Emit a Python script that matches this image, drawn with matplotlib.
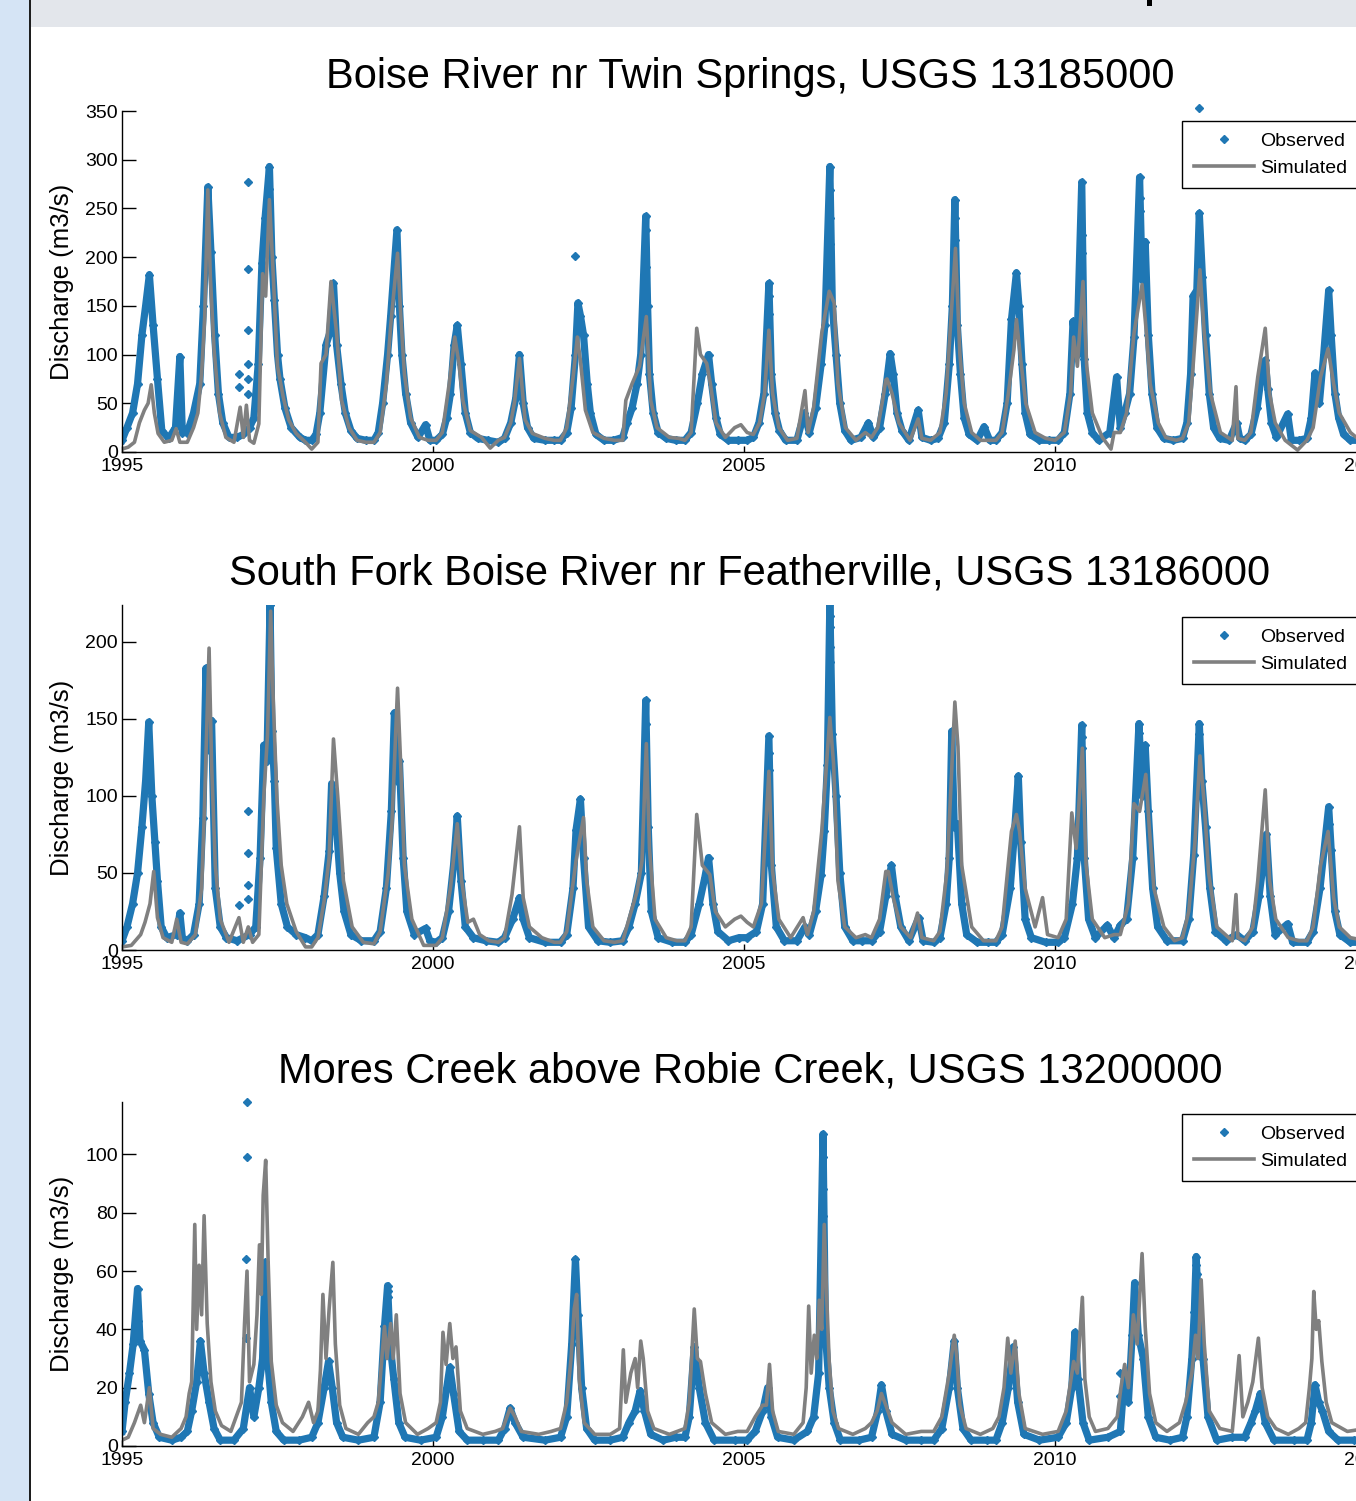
import matplotlib
matplotlib.use("Agg")
import matplotlib.pyplot as plt
from matplotlib.lines import Line2D
from matplotlib.patches import Rectangle

plt.rcParams['font.family'] = ['Liberation Sans', 'DejaVu Sans']

# ---------------------------------------------------------------- data
# (decimal year, discharge m3/s) key points
boise_obs = [
    (1995.00, 12), (1995.08, 25), (1995.17, 40), (1995.25, 70), (1995.32, 120), (1995.38, 150),
    (1995.44, 182), (1995.50, 130), (1995.57, 75), (1995.64, 22), (1995.75, 14), (1995.86, 25),
    (1995.93, 98), (1995.97, 20),
    (1996.05, 20), (1996.15, 40), (1996.25, 70), (1996.31, 150), (1996.38, 272), (1996.43, 205),
    (1996.49, 120), (1996.55, 60), (1996.62, 30), (1996.72, 15), (1996.85, 15), (1996.95, 18),
    (1997.05, 25), (1997.12, 35), (1997.19, 90), (1997.25, 194), (1997.30, 240), (1997.37, 293),
    (1997.41, 200), (1997.45, 156), (1997.50, 100), (1997.54, 75), (1997.62, 45), (1997.72, 25),
    (1997.86, 15), (1997.95, 12),
    (1998.05, 12), (1998.12, 18), (1998.18, 40), (1998.28, 110), (1998.34, 122), (1998.40, 173),
    (1998.45, 110), (1998.52, 70), (1998.59, 40), (1998.68, 22), (1998.78, 14), (1998.92, 12),
    (1999.05, 12), (1999.12, 20), (1999.19, 50), (1999.27, 100), (1999.32, 140), (1999.42, 228),
    (1999.46, 150), (1999.50, 100), (1999.56, 60), (1999.64, 30), (1999.76, 15), (1999.88, 28),
    (1999.95, 12),
    (2000.05, 12), (2000.15, 18), (2000.22, 35), (2000.28, 60), (2000.34, 110), (2000.39, 130),
    (2000.45, 90), (2000.52, 40), (2000.60, 20), (2000.72, 14), (2000.88, 12),
    (2001.05, 10), (2001.15, 14), (2001.25, 30), (2001.33, 55), (2001.39, 100), (2001.45, 50),
    (2001.52, 25), (2001.62, 14), (2001.80, 12), (2001.95, 12),
    (2002.05, 12), (2002.15, 20), (2002.22, 45), (2002.29, 100), (2002.33, 153), (2002.37, 140),
    (2002.42, 120), (2002.48, 70), (2002.53, 40), (2002.62, 18), (2002.75, 12), (2002.90, 12),
    (2003.05, 15), (2003.12, 30), (2003.20, 45), (2003.28, 70), (2003.34, 100), (2003.42, 242),
    (2003.45, 150), (2003.48, 80), (2003.54, 40), (2003.62, 20), (2003.75, 14), (2003.90, 12),
    (2004.05, 12), (2004.15, 20), (2004.25, 50), (2004.33, 80), (2004.43, 100), (2004.48, 70),
    (2004.55, 35), (2004.62, 18), (2004.75, 12), (2004.90, 12),
    (2005.05, 12), (2005.15, 15), (2005.24, 30), (2005.32, 60), (2005.40, 173), (2005.44, 80),
    (2005.50, 40), (2005.57, 22), (2005.67, 12), (2005.85, 12), (2005.97, 40),
    (2006.05, 20), (2006.15, 45), (2006.24, 90), (2006.30, 130), (2006.38, 293), (2006.42, 150),
    (2006.48, 100), (2006.54, 50), (2006.62, 22), (2006.72, 12), (2006.88, 15),
    (2007.00, 30), (2007.08, 15), (2007.18, 25), (2007.27, 60), (2007.35, 101), (2007.40, 80),
    (2007.46, 40), (2007.54, 22), (2007.65, 12), (2007.80, 43), (2007.86, 15),
    (2008.00, 12), (2008.12, 14), (2008.22, 30), (2008.30, 90), (2008.35, 150), (2008.39, 259),
    (2008.43, 130), (2008.48, 80), (2008.54, 35), (2008.62, 18), (2008.75, 12), (2008.86, 26),
    (2008.95, 12),
    (2009.05, 12), (2009.15, 20), (2009.23, 50), (2009.30, 136), (2009.38, 184), (2009.42, 150),
    (2009.47, 90), (2009.52, 40), (2009.60, 18), (2009.75, 12), (2009.90, 12),
    (2010.05, 12), (2010.15, 20), (2010.24, 60), (2010.29, 134), (2010.35, 100), (2010.43, 277),
    (2010.47, 95), (2010.52, 40), (2010.60, 20), (2010.70, 12), (2010.88, 20), (2010.99, 77),
    (2011.05, 25),
    (2011.12, 40), (2011.20, 60), (2011.27, 118), (2011.36, 282), (2011.40, 177), (2011.45, 216),
    (2011.50, 120), (2011.56, 60), (2011.64, 25), (2011.75, 14), (2011.90, 12),
    (2012.05, 14), (2012.12, 30), (2012.18, 80), (2012.22, 160), (2012.28, 166), (2012.32, 245),
    (2012.37, 180), (2012.42, 120), (2012.48, 60), (2012.55, 25), (2012.65, 14), (2012.80, 12),
    (2012.92, 30), (2012.97, 14),
    (2013.05, 12), (2013.15, 18), (2013.25, 45), (2013.32, 80), (2013.38, 94), (2013.42, 65),
    (2013.48, 30), (2013.56, 15), (2013.74, 39), (2013.80, 12), (2013.92, 12),
    (2014.05, 14), (2014.12, 35), (2014.18, 81), (2014.25, 50), (2014.32, 100), (2014.40, 166),
    (2014.44, 120), (2014.50, 60), (2014.56, 35), (2014.64, 18), (2014.75, 12), (2014.90, 12),
    (2015.00, 12),
]
boise_obs_isolated = [
    (1996.88, 80), (1996.88, 67), (1997.02, 277), (1997.02, 188), (1997.02, 125), (1997.02, 90),
    (1997.02, 75), (1997.02, 60), (2002.29, 201), (2012.32, 353), (2012.32, 208), (2012.32, 189),
    (2006.38, 269), (2006.38, 240), (2006.38, 213), (2010.43, 223), (2010.43, 204),
    (2011.36, 261), (2011.36, 247), (2003.42, 228), (2003.42, 190), (2005.40, 160), (2005.40, 142),
    (1997.37, 270), (1997.37, 252), (2008.39, 240), (2008.39, 218),
]
boise_sim = [
    (1995.00, 3), (1995.10, 5), (1995.20, 10), (1995.28, 30), (1995.36, 43), (1995.42, 50),
    (1995.47, 69), (1995.52, 40), (1995.58, 19), (1995.68, 10), (1995.80, 12), (1995.87, 24),
    (1995.93, 10),
    (1996.05, 10), (1996.15, 25), (1996.22, 40), (1996.28, 80), (1996.33, 139), (1996.38, 269),
    (1996.42, 180), (1996.48, 105), (1996.57, 40), (1996.67, 15), (1996.80, 10), (1996.90, 46),
    (1996.95, 15), (1997.00, 48), (1997.05, 12), (1997.12, 9),
    (1997.20, 29), (1997.26, 183), (1997.31, 160), (1997.37, 259), (1997.42, 197), (1997.50, 88),
    (1997.59, 57), (1997.68, 33), (1997.80, 19), (1997.95, 10),
    (1998.05, 3), (1998.15, 10), (1998.20, 91), (1998.28, 100), (1998.36, 175), (1998.45, 122),
    (1998.53, 53), (1998.65, 25), (1998.78, 12), (1998.92, 10),
    (1999.05, 10), (1999.15, 20), (1999.25, 70), (1999.32, 130), (1999.43, 204), (1999.48, 142),
    (1999.54, 80), (1999.64, 35), (1999.78, 15), (1999.92, 12),
    (2000.05, 12), (2000.15, 20), (2000.26, 70), (2000.35, 118), (2000.42, 90), (2000.48, 53),
    (2000.60, 22), (2000.78, 15), (2000.92, 4),
    (2001.05, 12), (2001.15, 15), (2001.25, 30), (2001.31, 51), (2001.39, 96), (2001.48, 33),
    (2001.60, 19), (2001.80, 14), (2001.95, 12),
    (2002.05, 12), (2002.15, 25), (2002.26, 81), (2002.32, 118), (2002.37, 94), (2002.45, 43),
    (2002.57, 20), (2002.75, 14), (2002.92, 12),
    (2003.05, 12), (2003.10, 53), (2003.20, 70), (2003.32, 88), (2003.43, 139), (2003.50, 53),
    (2003.60, 25), (2003.80, 15), (2003.95, 14),
    (2004.05, 12), (2004.15, 20), (2004.24, 127), (2004.30, 100), (2004.40, 91), (2004.46, 70),
    (2004.55, 30), (2004.70, 15), (2004.85, 25), (2004.95, 28),
    (2005.05, 20), (2005.15, 18), (2005.25, 30), (2005.33, 60), (2005.40, 125), (2005.46, 60),
    (2005.56, 25), (2005.70, 12), (2005.85, 14), (2005.98, 63), (2006.03, 20),
    (2006.12, 46), (2006.25, 122), (2006.37, 165), (2006.45, 153), (2006.51, 70), (2006.63, 25),
    (2006.80, 12), (2006.95, 20),
    (2007.05, 15), (2007.15, 25), (2007.22, 50), (2007.28, 74), (2007.30, 75), (2007.38, 60),
    (2007.49, 30), (2007.67, 12), (2007.80, 34), (2007.86, 14),
    (2008.00, 12), (2008.15, 20), (2008.25, 60), (2008.33, 139), (2008.40, 209), (2008.47, 101),
    (2008.54, 50), (2008.66, 20), (2008.80, 12), (2008.95, 12),
    (2009.05, 12), (2009.15, 20), (2009.25, 60), (2009.34, 105), (2009.38, 136), (2009.45, 94),
    (2009.53, 50), (2009.68, 20), (2009.85, 14),
    (2010.00, 12), (2010.15, 20), (2010.25, 60), (2010.30, 118), (2010.36, 88), (2010.45, 175),
    (2010.51, 88), (2010.60, 40), (2010.76, 15), (2010.90, 3), (2010.95, 20),
    (2011.05, 20), (2011.15, 40), (2011.27, 122), (2011.40, 172), (2011.47, 122), (2011.53, 70),
    (2011.66, 30), (2011.78, 15), (2011.95, 12),
    (2012.05, 14), (2012.15, 30), (2012.22, 88), (2012.33, 187), (2012.40, 122), (2012.50, 60),
    (2012.66, 20), (2012.85, 12), (2012.91, 67), (2012.94, 14),
    (2013.05, 12), (2013.15, 20), (2013.26, 77), (2013.38, 127), (2013.45, 60), (2013.54, 30),
    (2013.70, 12), (2013.90, 2),
    (2014.05, 12), (2014.15, 25), (2014.27, 77), (2014.39, 106), (2014.48, 70), (2014.57, 40),
    (2014.75, 20), (2014.90, 12), (2015.00, 12),
]

sfork_obs = [
    (1995.00, 6), (1995.08, 15), (1995.17, 30), (1995.25, 50), (1995.32, 80), (1995.38, 110),
    (1995.43, 148), (1995.48, 100), (1995.53, 70), (1995.57, 45), (1995.63, 15), (1995.72, 8),
    (1995.88, 10), (1995.93, 24), (1995.97, 8),
    (1996.05, 6), (1996.15, 10), (1996.24, 30), (1996.30, 86), (1996.35, 183), (1996.40, 130),
    (1996.44, 149), (1996.50, 40), (1996.58, 15), (1996.68, 8), (1996.85, 6),
    (1997.05, 10), (1997.15, 15), (1997.22, 60), (1997.28, 133), (1997.33, 123), (1997.38, 224),
    (1997.41, 142), (1997.45, 110), (1997.48, 66), (1997.56, 30), (1997.66, 15), (1997.80, 10),
    (1997.95, 8),
    (1998.05, 6), (1998.15, 10), (1998.25, 35), (1998.33, 64), (1998.37, 108), (1998.43, 90),
    (1998.50, 50), (1998.57, 25), (1998.68, 10), (1998.85, 6),
    (1999.05, 6), (1999.15, 12), (1999.25, 40), (1999.33, 90), (1999.38, 154), (1999.42, 110),
    (1999.46, 123), (1999.52, 60), (1999.58, 25), (1999.70, 10), (1999.88, 14), (1999.95, 6),
    (2000.05, 5), (2000.15, 8), (2000.25, 25), (2000.33, 55), (2000.39, 87), (2000.45, 45),
    (2000.52, 15), (2000.65, 8), (2000.85, 6),
    (2001.05, 5), (2001.15, 8), (2001.28, 20), (2001.39, 34), (2001.45, 20), (2001.55, 8),
    (2001.80, 5),
    (2002.05, 5), (2002.15, 10), (2002.25, 40), (2002.30, 78), (2002.37, 98), (2002.42, 60),
    (2002.50, 15), (2002.65, 6), (2002.85, 5),
    (2003.05, 6), (2003.15, 15), (2003.25, 30), (2003.35, 50), (2003.42, 162), (2003.46, 80),
    (2003.51, 25), (2003.62, 8), (2003.85, 5),
    (2004.05, 5), (2004.15, 10), (2004.28, 30), (2004.37, 47), (2004.43, 60), (2004.50, 30),
    (2004.58, 12), (2004.75, 6), (2004.92, 8),
    (2005.05, 8), (2005.20, 12), (2005.30, 30), (2005.40, 139), (2005.44, 55), (2005.52, 15),
    (2005.65, 6), (2005.85, 6), (2005.98, 15),
    (2006.05, 10), (2006.15, 25), (2006.24, 49), (2006.29, 77), (2006.34, 120), (2006.38, 225),
    (2006.42, 140), (2006.48, 100), (2006.54, 50), (2006.62, 15), (2006.75, 6), (2006.90, 6),
    (2007.05, 6), (2007.18, 12), (2007.28, 35), (2007.37, 55), (2007.43, 35), (2007.52, 15),
    (2007.65, 6), (2007.81, 21), (2007.88, 6),
    (2008.05, 5), (2008.15, 8), (2008.25, 30), (2008.30, 60), (2008.34, 142), (2008.38, 80),
    (2008.43, 82), (2008.50, 30), (2008.58, 10), (2008.75, 5), (2008.92, 5),
    (2009.05, 5), (2009.15, 10), (2009.28, 40), (2009.35, 77), (2009.41, 113), (2009.45, 70),
    (2009.52, 20), (2009.62, 8), (2009.85, 5),
    (2010.05, 5), (2010.15, 8), (2010.28, 30), (2010.36, 60), (2010.43, 146), (2010.47, 60),
    (2010.54, 20), (2010.65, 8), (2010.84, 16), (2010.95, 8), (2011.05, 16),
    (2011.15, 20), (2011.25, 60), (2011.35, 147), (2011.40, 100), (2011.45, 133), (2011.50, 90),
    (2011.57, 40), (2011.65, 15), (2011.80, 6),
    (2012.05, 6), (2012.15, 20), (2012.23, 62), (2012.32, 147), (2012.36, 110), (2012.42, 80),
    (2012.49, 40), (2012.58, 12), (2012.75, 6), (2012.92, 10),
    (2013.05, 6), (2013.18, 12), (2013.28, 35), (2013.36, 60), (2013.40, 75), (2013.46, 35),
    (2013.54, 10), (2013.74, 17), (2013.82, 5),
    (2014.05, 5), (2014.15, 12), (2014.26, 40), (2014.40, 93), (2014.44, 65), (2014.50, 25),
    (2014.58, 10), (2014.75, 5), (2015.00, 5),
]
sfork_obs_isolated = [
    (1996.88, 29), (1997.02, 90), (1997.02, 63), (1997.02, 42), (1997.02, 33),
    (2006.38, 217), (2006.38, 210), (2006.38, 197), (2006.38, 187), (2006.38, 171),
    (2006.38, 164), (2005.40, 128), (2005.40, 117), (2003.42, 147), (2010.43, 138),
    (2010.43, 131), (2011.35, 141), (2011.35, 129), (2012.32, 140), (2014.40, 82),
]
sfork_sim = [
    (1995.00, 2), (1995.15, 3), (1995.30, 10), (1995.37, 18), (1995.45, 30), (1995.51, 51),
    (1995.57, 21), (1995.66, 8), (1995.80, 5), (1995.88, 20), (1995.95, 5),
    (1996.05, 4), (1996.18, 10), (1996.28, 40), (1996.32, 85), (1996.40, 196), (1996.44, 121),
    (1996.50, 55), (1996.58, 20), (1996.72, 5), (1996.88, 21), (1996.95, 5), (1997.03, 15),
    (1997.10, 5),
    (1997.20, 10), (1997.28, 100), (1997.34, 140), (1997.39, 220), (1997.43, 164), (1997.49, 99),
    (1997.56, 55), (1997.65, 30), (1997.80, 12), (1997.95, 2),
    (1998.05, 2), (1998.15, 8), (1998.25, 32), (1998.33, 60), (1998.40, 137), (1998.47, 99),
    (1998.56, 45), (1998.70, 15), (1998.88, 5),
    (1999.05, 4), (1999.15, 12), (1999.28, 50), (1999.34, 82), (1999.43, 170), (1999.48, 121),
    (1999.54, 55), (1999.66, 20), (1999.85, 3),
    (2000.05, 3), (2000.15, 8), (2000.28, 40), (2000.39, 82), (2000.46, 45), (2000.56, 18),
    (2000.65, 20), (2000.75, 10), (2000.90, 6),
    (2001.05, 5), (2001.15, 8), (2001.27, 36), (2001.39, 80), (2001.45, 34), (2001.55, 15),
    (2001.75, 8), (2001.95, 5),
    (2002.05, 5), (2002.15, 12), (2002.24, 40), (2002.30, 58), (2002.42, 86), (2002.47, 45),
    (2002.57, 15), (2002.75, 6), (2002.92, 5),
    (2003.05, 6), (2003.15, 20), (2003.28, 38), (2003.36, 58), (2003.43, 134), (2003.48, 66),
    (2003.57, 20), (2003.75, 8), (2003.92, 6),
    (2004.05, 6), (2004.15, 15), (2004.24, 88), (2004.33, 55), (2004.45, 49), (2004.54, 25),
    (2004.70, 15), (2004.85, 20), (2004.95, 22),
    (2005.05, 18), (2005.15, 15), (2005.28, 30), (2005.40, 116), (2005.46, 51), (2005.56, 20),
    (2005.75, 8), (2005.95, 21), (2006.02, 10),
    (2006.12, 25), (2006.25, 77), (2006.38, 151), (2006.44, 121), (2006.51, 45), (2006.62, 15),
    (2006.80, 8), (2006.95, 10),
    (2007.05, 8), (2007.18, 20), (2007.28, 51), (2007.32, 51), (2007.40, 34), (2007.52, 15),
    (2007.68, 8), (2007.79, 24), (2007.86, 8),
    (2008.05, 6), (2008.15, 12), (2008.26, 50), (2008.32, 100), (2008.39, 161), (2008.44, 132),
    (2008.50, 55), (2008.66, 15), (2008.85, 6),
    (2009.05, 6), (2009.15, 15), (2009.30, 77), (2009.38, 88), (2009.43, 77), (2009.52, 40),
    (2009.68, 15), (2009.80, 34), (2009.88, 10),
    (2010.05, 8), (2010.18, 20), (2010.27, 89), (2010.34, 66), (2010.44, 131), (2010.50, 55),
    (2010.60, 20), (2010.80, 8), (2010.95, 10),
    (2011.05, 10), (2011.18, 30), (2011.27, 95), (2011.36, 90), (2011.46, 114), (2011.52, 77),
    (2011.59, 40), (2011.75, 15), (2011.92, 6),
    (2012.05, 8), (2012.15, 25), (2012.25, 70), (2012.33, 126), (2012.40, 95), (2012.47, 50),
    (2012.60, 15), (2012.85, 6), (2012.91, 36), (2012.94, 8),
    (2013.05, 6), (2013.18, 15), (2013.26, 45), (2013.38, 104), (2013.45, 45), (2013.55, 20),
    (2013.75, 8), (2013.92, 6),
    (2014.05, 6), (2014.15, 15), (2014.27, 55), (2014.39, 77), (2014.48, 34), (2014.57, 15),
    (2014.75, 8), (2015.00, 6),
]

mores_obs = [
    (1995.00, 5), (1995.05, 15), (1995.12, 25), (1995.18, 35), (1995.25, 54), (1995.29, 36),
    (1995.36, 33), (1995.43, 18), (1995.50, 8), (1995.60, 3), (1995.80, 2), (1995.95, 3),
    (1996.05, 5), (1996.12, 12), (1996.20, 22), (1996.26, 36), (1996.32, 25), (1996.40, 15),
    (1996.48, 6), (1996.58, 2), (1996.80, 2), (1996.95, 6),
    (1997.05, 20), (1997.12, 10), (1997.20, 20), (1997.26, 30), (1997.30, 63), (1997.34, 30),
    (1997.40, 15), (1997.48, 5), (1997.60, 2), (1997.85, 2),
    (1998.05, 3), (1998.15, 8), (1998.25, 20), (1998.32, 29), (1998.38, 20), (1998.45, 8),
    (1998.55, 3), (1998.80, 2),
    (1999.05, 3), (1999.15, 15), (1999.22, 41), (1999.27, 55), (1999.31, 35), (1999.37, 23),
    (1999.45, 8), (1999.55, 3), (1999.80, 2),
    (2000.05, 3), (2000.15, 10), (2000.22, 20), (2000.27, 27), (2000.33, 18), (2000.42, 5),
    (2000.55, 2), (2000.80, 2),
    (2001.05, 2), (2001.15, 6), (2001.24, 13), (2001.32, 8), (2001.45, 3), (2001.80, 2),
    (2002.05, 3), (2002.15, 10), (2002.23, 35), (2002.29, 64), (2002.33, 45), (2002.39, 20),
    (2002.47, 6), (2002.60, 2), (2002.85, 2),
    (2003.05, 3), (2003.15, 8), (2003.25, 12), (2003.33, 19), (2003.40, 12), (2003.50, 4),
    (2003.70, 2), (2003.90, 3),
    (2004.05, 3), (2004.12, 10), (2004.20, 34), (2004.28, 20), (2004.38, 8), (2004.52, 2),
    (2004.85, 2),
    (2005.05, 2), (2005.18, 5), (2005.30, 12), (2005.38, 20), (2005.44, 10), (2005.54, 3),
    (2005.80, 2),
    (2006.02, 5), (2006.12, 10), (2006.20, 25), (2006.27, 107), (2006.31, 38), (2006.37, 20),
    (2006.45, 8), (2006.55, 2), (2006.85, 2),
    (2007.05, 3), (2007.15, 12), (2007.21, 21), (2007.28, 12), (2007.38, 4), (2007.60, 2),
    (2007.85, 2),
    (2008.05, 2), (2008.18, 6), (2008.30, 20), (2008.38, 36), (2008.43, 20), (2008.52, 6),
    (2008.65, 2), (2008.90, 2),
    (2009.05, 2), (2009.15, 8), (2009.25, 20), (2009.33, 34), (2009.40, 15), (2009.50, 4),
    (2009.75, 2),
    (2010.05, 3), (2010.18, 8), (2010.27, 20), (2010.32, 39), (2010.37, 23), (2010.45, 8),
    (2010.55, 2), (2010.85, 3),
    (2011.05, 5), (2011.12, 25), (2011.18, 15), (2011.24, 38), (2011.28, 56), (2011.34, 38),
    (2011.42, 30), (2011.50, 10), (2011.62, 3), (2011.85, 2),
    (2012.05, 3), (2012.12, 10), (2012.20, 30), (2012.24, 46), (2012.27, 65), (2012.32, 40),
    (2012.38, 30), (2012.46, 10), (2012.60, 2), (2012.85, 3),
    (2013.05, 3), (2013.15, 8), (2013.22, 12), (2013.30, 18), (2013.38, 8), (2013.52, 2),
    (2013.85, 2),
    (2014.05, 2), (2014.12, 8), (2014.18, 21), (2014.24, 15), (2014.30, 12), (2014.40, 5),
    (2014.55, 2), (2014.80, 2), (2015.00, 2),
]
mores_obs_isolated = [
    (1997.01, 118), (1997.01, 99), (1997.00, 64), (1997.00, 37), (1995.25, 43), (2006.27, 99),
    (2006.27, 88), (2006.27, 79), (2002.29, 54), (2011.05, 25), (2011.05, 17), (2012.27, 62),
    (2012.28, 59), (2011.28, 52), (1999.27, 53), (1999.27, 51), (2010.32, 32),
]
mores_sim = [
    (1995.00, 2), (1995.10, 3), (1995.20, 8), (1995.30, 14), (1995.36, 8), (1995.44, 20),
    (1995.50, 6), (1995.62, 4), (1995.80, 3), (1995.95, 6),
    (1996.03, 10), (1996.08, 18), (1996.12, 22), (1996.17, 76), (1996.20, 40), (1996.24, 62),
    (1996.28, 45), (1996.32, 79), (1996.37, 42), (1996.43, 22), (1996.50, 12), (1996.60, 7),
    (1996.75, 5), (1996.92, 15), (1996.97, 42),
    (1997.01, 60), (1997.05, 22), (1997.12, 28), (1997.17, 45), (1997.21, 69), (1997.24, 52),
    (1997.27, 86), (1997.31, 98), (1997.35, 63), (1997.40, 29), (1997.48, 14), (1997.58, 8),
    (1997.75, 5), (1997.90, 10),
    (1998.00, 15), (1998.08, 8), (1998.15, 12), (1998.19, 26), (1998.23, 52), (1998.28, 30),
    (1998.33, 47), (1998.39, 63), (1998.43, 35), (1998.50, 14), (1998.60, 6), (1998.80, 4),
    (1998.95, 8),
    (1999.05, 10), (1999.12, 15), (1999.22, 41), (1999.26, 30), (1999.32, 42), (1999.36, 30),
    (1999.41, 45), (1999.47, 18), (1999.56, 8), (1999.75, 4), (1999.92, 6),
    (2000.05, 8), (2000.12, 15), (2000.16, 39), (2000.21, 28), (2000.27, 42), (2000.32, 30),
    (2000.37, 34), (2000.44, 12), (2000.55, 6), (2000.80, 4),
    (2001.00, 5), (2001.12, 6), (2001.24, 13), (2001.32, 10), (2001.42, 5), (2001.70, 4),
    (2001.90, 5),
    (2002.05, 6), (2002.15, 15), (2002.22, 30), (2002.27, 47), (2002.31, 52), (2002.35, 23),
    (2002.43, 8), (2002.60, 4), (2002.85, 4),
    (2003.00, 6), (2003.06, 33), (2003.10, 15), (2003.18, 25), (2003.25, 30), (2003.29, 20),
    (2003.34, 36), (2003.38, 30), (2003.45, 12), (2003.55, 6), (2003.80, 4),
    (2004.05, 6), (2004.12, 15), (2004.20, 47), (2004.25, 30), (2004.30, 29), (2004.38, 18),
    (2004.48, 8), (2004.70, 4), (2004.90, 5),
    (2005.05, 5), (2005.18, 10), (2005.30, 14), (2005.36, 14), (2005.41, 28), (2005.46, 12),
    (2005.55, 5), (2005.80, 4), (2005.95, 8),
    (2006.00, 20), (2006.04, 48), (2006.08, 25), (2006.13, 38), (2006.17, 30), (2006.21, 50),
    (2006.25, 40), (2006.29, 76), (2006.33, 51), (2006.37, 29), (2006.43, 12), (2006.52, 6),
    (2006.75, 4), (2006.95, 6),
    (2007.05, 8), (2007.14, 12), (2007.21, 18), (2007.28, 14), (2007.38, 8), (2007.60, 4),
    (2007.85, 5),
    (2008.05, 5), (2008.18, 10), (2008.30, 25), (2008.38, 38), (2008.42, 31), (2008.47, 14),
    (2008.57, 6), (2008.80, 4),
    (2009.00, 6), (2009.10, 10), (2009.18, 20), (2009.24, 37), (2009.29, 25), (2009.36, 36),
    (2009.42, 18), (2009.52, 6), (2009.80, 4),
    (2010.05, 5), (2010.18, 12), (2010.30, 29), (2010.36, 25), (2010.44, 51), (2010.48, 23),
    (2010.55, 10), (2010.65, 5), (2010.85, 6),
    (2011.00, 10), (2011.06, 20), (2011.12, 28), (2011.18, 20), (2011.26, 45), (2011.32, 35),
    (2011.40, 66), (2011.45, 41), (2011.52, 18), (2011.62, 8), (2011.80, 5),
    (2012.00, 8), (2012.10, 15), (2012.20, 25), (2012.26, 38), (2012.30, 30), (2012.35, 57),
    (2012.40, 35), (2012.48, 12), (2012.65, 6), (2012.85, 5), (2012.96, 31),
    (2013.02, 10), (2013.10, 15), (2013.18, 22), (2013.27, 37), (2013.33, 20), (2013.42, 10),
    (2013.55, 6), (2013.75, 4), (2013.92, 6),
    (2014.03, 8), (2014.09, 20), (2014.13, 30), (2014.16, 53), (2014.20, 40), (2014.24, 43),
    (2014.29, 29), (2014.36, 15), (2014.45, 8), (2014.70, 5), (2015.00, 6),
]

titles = [
    "Boise River nr Twin Springs, USGS 13185000",
    "South Fork Boise River nr Featherville, USGS 13186000",
    "Mores Creek above Robie Creek, USGS 13200000",
]
y_max = [350, 224, 118]
y_ticks = [list(range(0, 351, 50)), list(range(0, 201, 50)), list(range(0, 101, 20))]
x_ticks = [1995, 2000, 2005, 2010, 2015]
x_range = (1995, 2015)
ylabel_text = "Discharge (m3/s)"
legend_labels = ["Observed", "Simulated"]

panels = [
    (boise_obs, boise_obs_isolated, boise_sim),
    (sfork_obs, sfork_obs_isolated, sfork_sim),
    (mores_obs, mores_obs_isolated, mores_sim),
]

# ---------------------------------------------------------------- layout
W, H = 1356, 1501
BLUE = '#1f77b4'
GRAY = '#808080'
axes_px = [(111, 452), (605, 950), (1102, 1446)]   # top, bottom in pixels
title_gap = [23, 20, 20]
legend_top_px = [121, 617, 1114]
ax_left, ax_right = 122, 1366

fig = plt.figure(figsize=(W / 100, H / 100), dpi=100)
fig.patch.set_facecolor('white')
fig.patches.extend([
    Rectangle((0, 0), 29 / W, 1, transform=fig.transFigure, facecolor='#D5E4F5',
              edgecolor='none', zorder=0),
    Rectangle((29 / W, 0), 2 / W, 1, transform=fig.transFigure, facecolor='#1e1e1e',
              edgecolor='none', zorder=0),
    Rectangle((31 / W, 1 - 27 / H), 1, 27 / H, transform=fig.transFigure,
              facecolor='#E3E6EB', edgecolor='none', zorder=0),
    Rectangle((1147 / W, 1 - 6 / H), 5 / W, 6 / H, transform=fig.transFigure,
              facecolor='black', edgecolor='none', zorder=1),
])

for i, (obs, iso, sim) in enumerate(panels):
    top, bot = axes_px[i]
    ax = fig.add_axes([ax_left / W, 1 - bot / H, (ax_right - ax_left) / W, (bot - top) / H])
    ax.set_facecolor('none')
    ot, oq = zip(*obs)
    it, iq = zip(*iso)
    st, sq = zip(*sim)
    ax.plot(ot, oq, color=BLUE, lw=5.2, zorder=2)
    ax.plot(ot, oq, ls='none', marker='D', ms=4.5, color=BLUE, zorder=2)
    ax.plot(it, iq, ls='none', marker='D', ms=4.5, color=BLUE, zorder=2, clip_on=False)
    ax.plot(st, sq, color=GRAY, lw=2.6, zorder=3)

    ax.set_xlim(*x_range)
    ax.set_ylim(0, y_max[i])
    ax.set_xticks(x_ticks)
    ax.set_yticks(y_ticks[i])
    for s in ('top', 'right'):
        ax.spines[s].set_visible(False)
    for s in ('left', 'bottom'):
        ax.spines[s].set_linewidth(1.0)
        ax.spines[s].set_color('black')
        ax.spines[s].set_zorder(5)
    ax.tick_params(axis='y', direction='in', length=10, width=1, labelsize=14, pad=3)
    ax.tick_params(axis='x', direction='in', length=4, width=1, labelsize=14, pad=4)

    fig.text(750 / W, 1 - (top - title_gap[i]) / H, titles[i], ha='center', va='baseline',
             fontsize=30)
    fig.text(62 / W, 1 - (top + bot) / 2 / H, ylabel_text, rotation=90, ha='center',
             va='center', fontsize=18.5)

    handles = [Line2D([], [], ls='none', marker='D', ms=4.5, color=BLUE),
               Line2D([], [], color=GRAY, lw=2.6)]
    leg = ax.legend(handles, legend_labels, loc='upper left',
                    bbox_to_anchor=((1182 - ax_left) / (ax_right - ax_left),
                                    (bot - legend_top_px[i]) / (bot - top)),
                    borderaxespad=0, fontsize=14, frameon=True, fancybox=False,
                    framealpha=1, edgecolor='black', handlelength=3.1,
                    handletextpad=0.3, labelspacing=0.45, borderpad=0.6)
    leg.get_frame().set_linewidth(1.0)
    leg.set_zorder(6)

fig.savefig('out.png', dpi=100)
